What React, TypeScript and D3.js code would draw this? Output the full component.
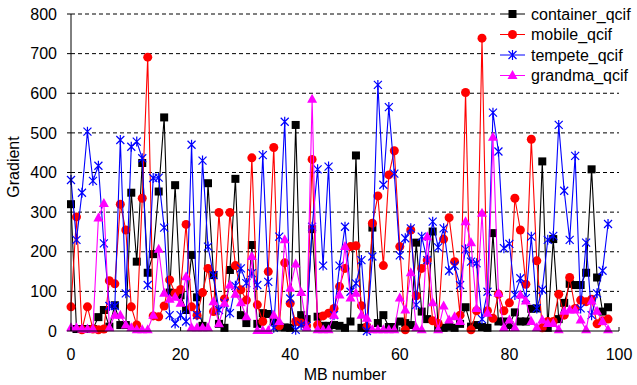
import React from "react";
import * as d3 from "d3";

const container = [320,5,5,5,5,35,53,11,65,15,15,349,175,424,147,194,352,539,97,368,90,53,192,85,13,373,141,18,8,154,384,40,20,217,18,45,43,24,11,9,8,520,40,30,257,36,13,13,15,13,8,24,443,8,8,261,20,40,10,10,24,20,15,223,49,30,251,8,8,11,8,18,60,11,15,10,8,247,24,24,15,47,24,24,56,57,428,8,232,30,71,119,116,116,147,408,135,49,60];
const mobile = [61,288,3,61,5,3,5,127,119,320,255,61,15,335,691,38,36,63,129,95,105,269,61,40,97,158,49,299,81,299,165,104,78,437,66,24,150,463,13,172,70,24,20,13,433,15,38,45,57,112,158,213,215,64,11,272,341,165,394,455,213,3,255,89,158,179,26,19,232,286,175,40,602,3,51,739,51,32,93,51,71,335,255,118,484,177,8,24,24,93,40,135,57,78,74,80,18,26,30];
const tempete = [381,230,349,503,379,417,221,63,63,482,95,465,478,436,116,386,387,261,40,19,40,24,470,40,430,213,141,53,71,45,114,158,121,146,116,444,124,8,238,528,82,3,15,13,263,408,165,415,40,165,263,99,120,179,0,188,621,369,565,397,191,234,259,66,238,179,276,211,259,152,165,116,206,175,171,30,99,551,453,209,220,91,133,83,238,57,104,230,240,520,354,230,442,57,223,40,95,152,270];
const grandma = [8,8,5,5,5,285,322,8,40,40,15,8,3,3,3,40,206,95,80,85,70,137,8,8,8,8,74,18,70,116,93,71,36,188,1,1,1,40,24,230,108,169,97,8,585,3,3,3,40,91,213,83,95,40,32,3,3,3,3,3,83,53,147,8,3,238,71,3,63,28,36,24,276,223,57,297,45,489,95,8,28,8,91,76,24,8,28,19,19,3,50,53,53,28,3,76,50,24,3];

const seriesNames = ["container_qcif", "mobile_qcif", "tempete_qcif", "grandma_qcif"];
const seriesData = [container, mobile, tempete, grandma];
const colors = ["#000000", "#ff0000", "#0000ff", "#ff00ff"];
const markers = ["square", "circle", "star", "triangle"];
const yTicks = [0, 100, 200, 300, 400, 500, 600, 700, 800];
const xTicks = [0, 20, 40, 60, 80, 100];

const W = 637, H = 385;
const L = 71, R = 619, T = 14, B = 331;

function Marker({ type, x, y, color }: { type: string; x: number; y: number; color: string }) {
  if (type === "square") return <rect x={x - 4} y={y - 4} width={8} height={8} fill={color} />;
  if (type === "circle") return <circle cx={x} cy={y} r={4.5} fill={color} />;
  if (type === "triangle")
    return <path d={`M${x},${y - 5.5}L${x + 5},${y + 3.5}L${x - 5},${y + 3.5}Z`} fill={color} />;
  const s = 4;
  return (
    <path
      d={`M${x - s},${y - s}L${x + s},${y + s}M${x - s},${y + s}L${x + s},${y - s}M${x},${y - s - 1}L${x},${y + s + 1}`}
      stroke={color}
      strokeWidth={1.2}
      fill="none"
    />
  );
}

export default function App() {
  const x = d3.scaleLinear().domain([0, 100]).range([L, R]);
  const y = d3.scaleLinear().domain([0, 800]).range([B, T]);
  const line = d3
    .line<number>()
    .x((_, i) => x(i))
    .y((d) => y(d));
  const font = "'Liberation Sans', Arial, sans-serif";
  const legendRows = [14, 34.5, 55, 75.5];

  return (
    <svg width={W} height={H} style={{ position: "fixed", left: 0, top: 0, background: "#fff" }} fontFamily={font}>
      <rect width={W} height={H} fill="#fff" />
      {yTicks.slice(1).map((t) => (
        <line key={t} x1={L} x2={R} y1={y(t)} y2={y(t)} stroke="#000" strokeWidth={1} strokeDasharray="4,3" />
      ))}
      {seriesData.map((data, si) => (
        <g key={si}>
          <path d={line(data) || ""} fill="none" stroke={colors[si]} strokeWidth={1.1} />
          {data.map((v, i) => (
            <Marker key={i} type={markers[si]} x={x(i)} y={y(v)} color={colors[si]} />
          ))}
        </g>
      ))}
      <line x1={L} x2={L} y1={T} y2={B} stroke="#000" />
      <line x1={L} x2={R} y1={B} y2={B} stroke="#000" />
      {xTicks.map((t) => (
        <g key={t}>
          <line x1={x(t)} x2={x(t)} y1={B} y2={B - 4} stroke="#000" />
          <text x={x(t)} y={360} fontSize={16} textAnchor="middle">{t}</text>
        </g>
      ))}
      {yTicks.map((t) => (
        <g key={t}>
          <line x1={L - 4} x2={L} y1={y(t)} y2={y(t)} stroke="#000" />
          <text x={57} y={y(t) + 5.7} fontSize={16} textAnchor="end">{t}</text>
        </g>
      ))}
      <text x={(L + R) / 2} y={380} fontSize={16} textAnchor="middle">MB number</text>
      <text transform={`translate(18.5,167) rotate(-90)`} fontSize={16} textAnchor="middle">Gradient</text>
      <rect x={497} y={0} width={140} height={86} fill="#fff" />
      {seriesNames.map((n, i) => (
        <g key={n}>
          <line x1={500} x2={525} y1={legendRows[i]} y2={legendRows[i]} stroke={colors[i]} />
          <Marker type={markers[i]} x={512.5} y={legendRows[i]} color={colors[i]} />
          <text x={531} y={legendRows[i] + 5.5} fontSize={16}>{n}</text>
        </g>
      ))}
    </svg>
  );
}
